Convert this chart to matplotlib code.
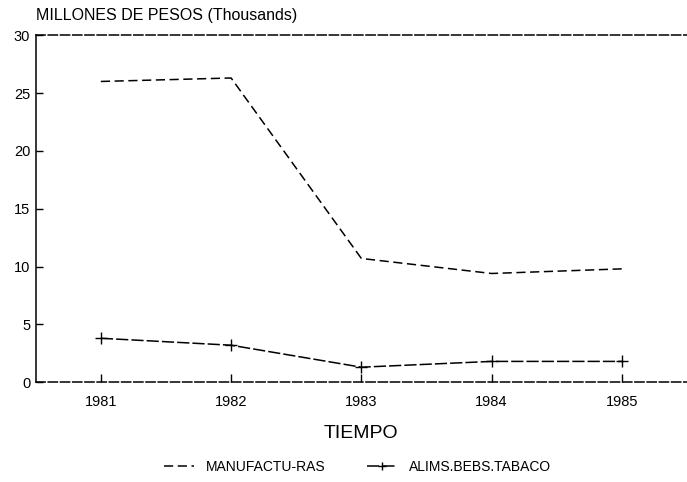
import matplotlib
matplotlib.use("Agg")
import matplotlib.pyplot as plt

# data
years = [1981, 1982, 1983, 1984, 1985]
manufacturas = [26.0, 26.3, 10.7, 9.4, 9.8]
alims_bebs_tabaco = [3.8, 3.2, 1.3, 1.8, 1.8]
y_ticks = [0, 5, 10, 15, 20, 25, 30]

plt.rcParams['font.family'] = ['Liberation Sans', 'DejaVu Sans']

fig = plt.figure(figsize=(6.87, 4.82), dpi=100)
ax = fig.add_axes([0.052, 0.207, 0.948, 0.72])

ax.plot(years, manufacturas, color='black', linestyle=(0, (6, 3)), linewidth=1.1,
        label='MANUFACTU-RAS')
ax.plot(years, alims_bebs_tabaco, color='black', linestyle=(0, (8, 2)), linewidth=1.1,
        marker='+', markersize=9, markeredgewidth=1.0, label='ALIMS.BEBS.TABACO')

ax.set_xlim(1980.5, 1985.5)
ax.set_ylim(0, 30)
ax.set_xticks(years)
ax.set_yticks(y_ticks)
ax.set_yticklabels([str(v) for v in y_ticks])

ax.spines['right'].set_visible(False)
ax.spines['top'].set_linestyle((0, (6, 2)))
ax.spines['bottom'].set_linestyle((0, (6, 2)))
for s in ['top', 'bottom', 'left']:
    ax.spines[s].set_linewidth(1.1)

ax.tick_params(axis='x', direction='in', length=6, width=1, labelsize=10.5, pad=9)
ax.tick_params(axis='y', direction='in', length=5, width=1, labelsize=10.5, pad=4)

ax.text(0.0, 1.035, 'MILLONES DE PESOS (Thousands)', transform=ax.transAxes,
        fontsize=11.5, ha='left', va='bottom')
ax.set_xlabel('TIEMPO', fontsize=14, labelpad=12)

fig.legend(loc='lower center', bbox_to_anchor=(0.52, -0.01), ncol=2, frameon=False,
           fontsize=10, handlelength=2.2, columnspacing=3, markerscale=0.6)

fig.savefig('out.png', dpi=100)
